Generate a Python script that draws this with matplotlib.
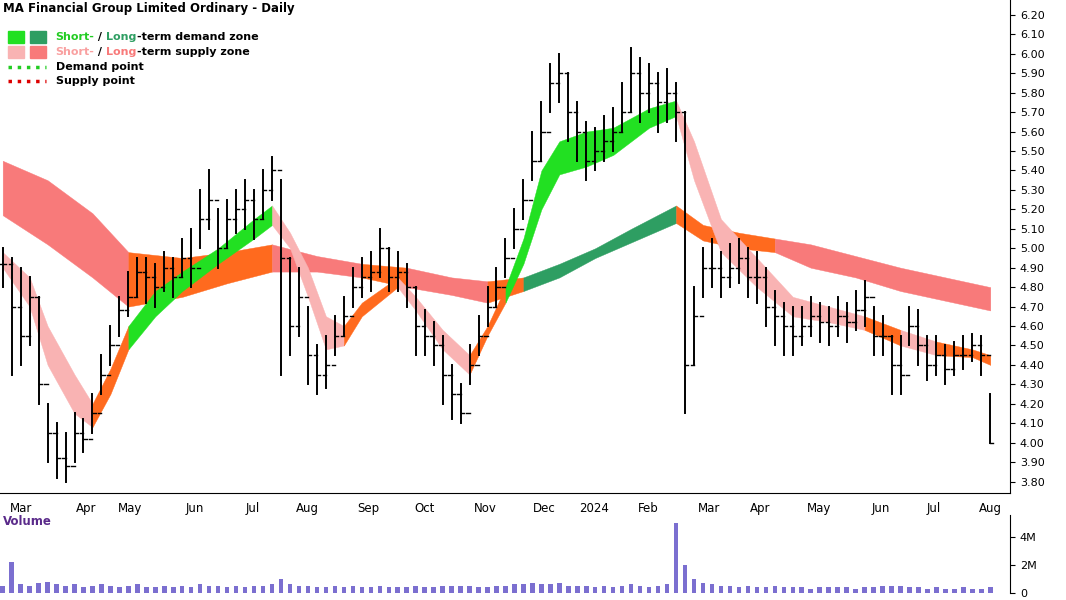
import matplotlib
matplotlib.use("Agg")
import matplotlib.pyplot as plt
import numpy as np

close = [4.92,4.70,4.55,4.75,4.30,4.05,3.92,3.88,4.05,4.02,4.15,4.35,4.50,4.68,4.75,4.88,4.85,4.80,4.90,4.85,
         4.95,4.90,5.15,5.25,5.00,5.15,5.20,5.25,5.15,5.30,5.40,4.95,4.60,4.75,4.45,4.35,4.40,4.55,4.65,4.80,
         4.85,4.88,5.00,4.85,4.88,4.80,4.60,4.55,4.50,4.35,4.25,4.15,4.40,4.55,4.70,4.80,4.95,5.10,5.25,5.45,
         5.60,5.85,5.90,5.70,5.60,5.45,5.50,5.55,5.60,5.70,5.90,5.80,5.85,5.75,5.80,5.70,4.40,4.65,4.90,4.90,
         4.85,4.90,4.95,4.85,4.85,4.70,4.65,4.60,4.55,4.60,4.65,4.62,4.60,4.65,4.62,4.68,4.75,4.55,4.55,4.40,
         4.35,4.60,4.50,4.40,4.45,4.38,4.45,4.45,4.50,4.45,4.00]
high = [5.00,4.95,4.90,4.85,4.75,4.20,4.10,4.05,4.15,4.12,4.25,4.45,4.60,4.75,4.88,4.95,4.95,4.92,4.98,4.95,
        5.05,5.10,5.30,5.40,5.20,5.25,5.30,5.35,5.30,5.40,5.47,5.35,4.95,4.90,4.70,4.50,4.55,4.65,4.75,4.90,
        4.95,4.98,5.10,5.00,4.98,4.92,4.80,4.68,4.62,4.55,4.40,4.30,4.50,4.65,4.80,4.90,5.05,5.20,5.35,5.60,
        5.75,5.95,6.00,5.90,5.75,5.65,5.62,5.68,5.72,5.85,6.03,5.98,5.95,5.90,5.92,5.85,5.70,4.80,5.00,5.05,
        4.98,5.02,5.05,5.00,4.98,4.90,4.78,4.72,4.70,4.70,4.75,4.72,4.70,4.75,4.72,4.78,4.83,4.70,4.65,4.55,
        4.55,4.70,4.68,4.55,4.55,4.50,4.52,4.55,4.56,4.55,4.25]
low = [4.80,4.35,4.40,4.50,4.20,3.90,3.82,3.80,3.90,3.95,4.05,4.25,4.40,4.55,4.65,4.75,4.72,4.70,4.78,4.75,
       4.85,4.80,5.00,5.10,4.90,5.00,5.08,5.10,5.05,5.15,5.25,4.35,4.45,4.55,4.30,4.25,4.28,4.45,4.55,4.70,
       4.75,4.78,4.85,4.78,4.78,4.70,4.45,4.45,4.40,4.20,4.12,4.10,4.30,4.45,4.60,4.70,4.85,5.00,5.15,5.35,
       5.45,5.70,5.75,5.55,5.45,5.35,5.40,5.45,5.50,5.60,5.70,5.65,5.70,5.60,5.65,5.55,4.15,4.40,4.75,4.80,
       4.75,4.80,4.82,4.75,4.72,4.60,4.50,4.45,4.45,4.50,4.55,4.52,4.50,4.55,4.52,4.58,4.60,4.45,4.45,4.25,
       4.25,4.50,4.40,4.32,4.35,4.30,4.35,4.38,4.42,4.35,4.00]
volume = [0.5,2.2,0.6,0.5,0.7,0.8,0.6,0.5,0.6,0.4,0.5,0.6,0.5,0.4,0.5,0.6,0.4,0.4,0.5,0.4,
          0.5,0.4,0.6,0.5,0.5,0.4,0.5,0.4,0.5,0.5,0.6,1.0,0.6,0.5,0.5,0.4,0.4,0.5,0.4,0.5,
          0.4,0.4,0.5,0.4,0.4,0.4,0.5,0.4,0.4,0.5,0.5,0.5,0.5,0.4,0.4,0.5,0.5,0.6,0.6,0.7,
          0.6,0.6,0.7,0.5,0.5,0.5,0.4,0.5,0.4,0.5,0.6,0.5,0.4,0.5,0.6,5.0,2.0,1.0,0.7,0.6,
          0.5,0.5,0.4,0.5,0.4,0.4,0.5,0.4,0.4,0.4,0.3,0.4,0.4,0.4,0.4,0.3,0.4,0.4,0.5,0.5,
          0.5,0.4,0.4,0.3,0.4,0.3,0.3,0.4,0.3,0.3,0.4]

long_x = [0,5,10,14,20,25,30,35,40,45,50,54,58,62,66,70,75,78,82,86,90,95,100,105,110]
long_top = [5.45,5.35,5.18,4.98,4.95,4.98,5.02,4.96,4.92,4.90,4.85,4.83,4.85,4.92,5.00,5.10,5.22,5.12,5.08,5.05,5.02,4.96,4.90,4.85,4.80]
long_bot = [5.17,5.02,4.85,4.70,4.75,4.82,4.88,4.88,4.85,4.80,4.76,4.72,4.78,4.85,4.95,5.03,5.13,5.04,5.00,4.98,4.90,4.85,4.78,4.73,4.68]
long_zones = [(0,14,'red'),(14,30,'orange'),(30,40,'red'),(40,45,'orange'),(45,54,'red'),(54,58,'orange'),
              (58,75,'dgreen'),(75,86,'orange'),(86,110,'red')]

short_x = [0,3,5,8,10,12,14,17,20,24,28,30,32,34,36,38,40,44,46,49,52,54,56,58,60,62,65,68,72,75,77,80,84,88,92,96,100,104,108,110]
short_top = [4.98,4.85,4.60,4.35,4.20,4.38,4.60,4.78,4.88,5.00,5.15,5.22,5.08,4.90,4.65,4.60,4.72,4.85,4.75,4.58,4.45,4.60,4.80,5.05,5.40,5.55,5.60,5.62,5.72,5.76,5.55,5.15,4.95,4.75,4.70,4.65,4.58,4.52,4.48,4.45]
short_bot = [4.90,4.70,4.40,4.15,4.08,4.25,4.48,4.65,4.78,4.92,5.05,5.12,5.00,4.75,4.48,4.50,4.65,4.80,4.68,4.48,4.35,4.55,4.72,4.92,5.20,5.38,5.42,5.48,5.62,5.68,5.35,4.98,4.80,4.65,4.62,4.58,4.50,4.45,4.44,4.40]
short_zones = [(0,10,'pink'),(10,14,'orange'),(14,30,'green'),(30,38,'pink'),(38,44,'orange'),(44,52,'pink'),
               (52,56,'orange'),(56,75,'green'),(75,96,'pink'),(96,100,'orange'),(100,104,'pink'),(104,110,'orange')]

month_labels = ['Mar','Apr','May','Jun','Jul','Aug','Sep','Oct','Nov','Dec','2024','Feb','Mar','Apr','May','Jun','Jul','Aug']
month_pos = [2.0,9.3,14.2,21.4,27.8,33.9,40.7,47.0,53.8,60.3,65.9,71.9,78.7,84.4,90.9,97.8,103.7,110.0]

colors = {'red':'#f87a7a','orange':'#ff6a1e','dgreen':'#2e9e62','green':'#22e022','pink':'#f9b3b3'}

fig = plt.figure(figsize=(10.66,6.0), dpi=100)
ax = fig.add_axes([0,0.178,0.9475,0.822])
axv = fig.add_axes([0,0.012,0.9475,0.13])

def draw_band(xs, top, bot, zones):
    xs = np.array(xs); top = np.array(top); bot = np.array(bot)
    for a,b,c in zones:
        m = (xs>=a)&(xs<=b)
        ax.fill_between(xs[m], bot[m], top[m], color=colors[c], lw=0.3, ec=colors[c], zorder=1)

draw_band(long_x, long_top, long_bot, long_zones)
draw_band(short_x, short_top, short_bot, short_zones)

x = np.arange(len(close))
opens = [close[0]] + close[:-1]
for i in x:
    ax.plot([i,i],[low[i],high[i]], color='black', lw=1.4, zorder=3)
    ax.plot([i-0.35,i],[opens[i],opens[i]], color='black', lw=1.0, zorder=3)
    ax.plot([i,i+0.35],[close[i],close[i]], color='black', lw=1.0, zorder=3)

ax.set_xlim(-0.3, 112.2)
ax.set_ylim(3.74, 6.277)
ax.yaxis.tick_right()
ax.set_yticks([3.8+0.1*k for k in range(25)])
ax.set_yticklabels([f"{3.8+0.1*k:.2f}" for k in range(25)], fontsize=8)
ax.set_xticks(month_pos)
ax.set_xticklabels(month_labels, fontsize=8.5)
ax.tick_params(axis='x', length=0, pad=6)
for s in ['top','left']:
    ax.spines[s].set_visible(False)

ax.text(0.003,0.995,"MA Financial Group Limited Ordinary - Daily", transform=ax.transAxes, fontsize=8.5,
        fontweight='bold', va='top')
leg = [(['#22e022','#2e9e62'], [('Short-','#22cc22'),(' / ','black'),('Long','#2e9e62'),('-term demand zone','black')]),
       (['#f9b3b3','#f87a7a'], [('Short-','#f9a0a0'),(' / ','black'),('Long','#f87a7a'),('-term supply zone','black')])]
for k,(sw,parts) in enumerate(leg):
    yy = 0.925 - k*0.03
    ax.add_patch(plt.Rectangle((0.008,yy-0.012),0.016,0.024,transform=ax.transAxes,color=sw[0],clip_on=False))
    ax.add_patch(plt.Rectangle((0.03,yy-0.012),0.016,0.024,transform=ax.transAxes,color=sw[1],clip_on=False))
    t = None
    xx = 0.055
    for txt,c in parts:
        t = ax.annotate(txt, xy=(xx,yy), xycoords='axes fraction', fontsize=8, fontweight='bold', color=c, va='center') if t is None else \
            ax.annotate(txt, xy=(1,0.5), xycoords=t, fontsize=8, fontweight='bold', color=c, va='center', ha='left')
for k,(c,lab) in enumerate([('#22cc22','Demand point'),('#dd0000','Supply point')]):
    yy = 0.865 - k*0.03
    ax.plot([0.008,0.046],[yy,yy],transform=ax.transAxes,color=c,ls=':',lw=2.5,clip_on=False)
    ax.text(0.055,yy,lab,transform=ax.transAxes,fontsize=8,fontweight='bold',va='center')

axv.bar(x, volume, width=0.5, color='#7b6fd0')
axv.set_xlim(-0.3,112.2)
axv.set_ylim(0,5.6)
axv.yaxis.tick_right()
axv.set_yticks([0,2,4]); axv.set_yticklabels(['0','2M','4M'], fontsize=8)
axv.set_xticks([])
for s in ['top','left','bottom']:
    axv.spines[s].set_visible(False)
axv.text(0.003,1.0,"Volume",transform=axv.transAxes,fontsize=8.5,fontweight='bold',color='#5a2a8a',va='top')

fig.savefig("out.png", dpi=100)
